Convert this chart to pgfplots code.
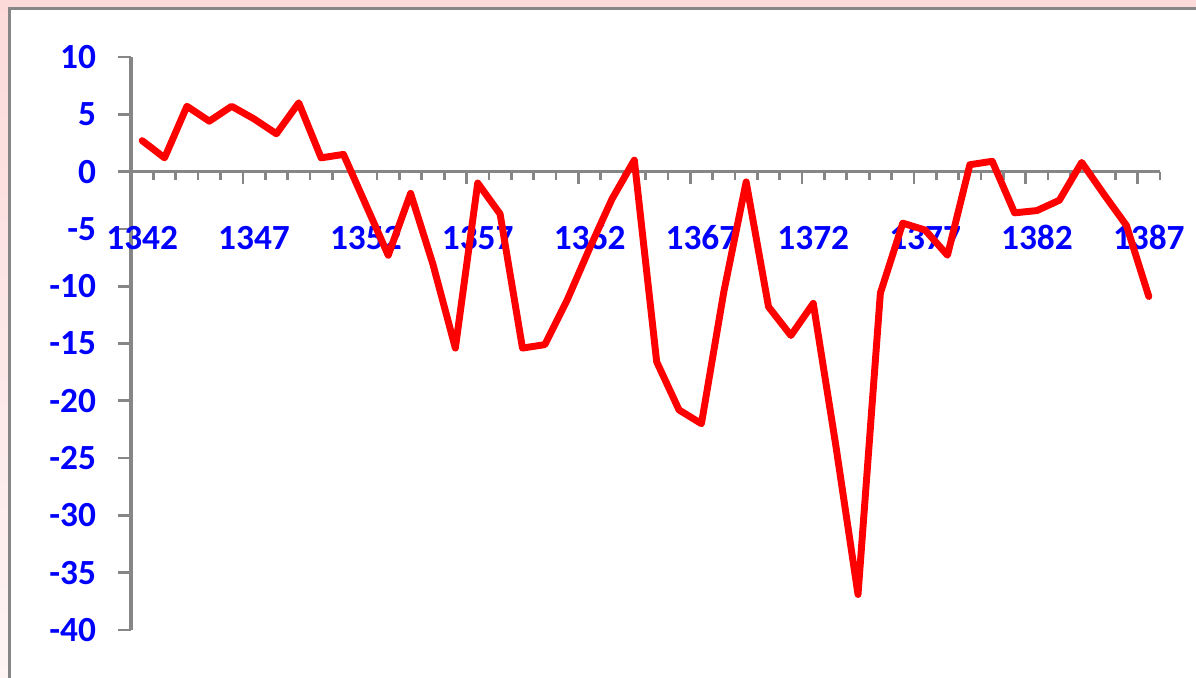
\documentclass[border=0pt]{standalone}
\usepackage{fontspec}
\setmainfont{Carlito}
\usepackage{pgfplots}
\pgfplotsset{compat=1.18}
\definecolor{pinkbg}{RGB}{252,218,218}
\definecolor{pinklow}{RGB}{254,244,244}
\definecolor{framegrey}{RGB}{134,134,134}
\definecolor{axgrey}{RGB}{134,134,134}
\definecolor{lblue}{RGB}{0,0,255}
\definecolor{lred}{RGB}{255,0,0}

\pgfplotstableread{
x y
0 2.7
1 1.2
2 5.7
3 4.4
4 5.7
5 4.6
6 3.3
7 6.0
8 1.2
9 1.5
10 -2.9
11 -7.3
12 -1.9
13 -8.1
14 -15.4
15 -1.0
16 -3.7
17 -15.4
18 -15.1
19 -11.2
20 -6.7
21 -2.4
22 1.0
23 -16.6
24 -20.8
25 -22.0
26 -10.5
27 -0.9
28 -11.8
29 -14.3
30 -11.5
31 -23.8
32 -36.9
33 -10.6
34 -4.5
35 -5.1
36 -7.3
37 0.6
38 0.9
39 -3.6
40 -3.4
41 -2.5
42 0.8
43 -2.0
44 -4.7
45 -10.9
}\datatable

\begin{document}
\begin{tikzpicture}
\begin{scope}
\clip (0,0) rectangle (897pt,508.5pt);
\shade[top color=pinkbg, bottom color=pinklow] (0,0) rectangle (897pt,508.5pt);
\filldraw[fill=white, draw=framegrey, line width=2.25pt] (6.75pt,-20pt) rectangle (920pt,501.75pt);
\end{scope}
\useasboundingbox (0,0) rectangle (897pt,508.5pt);
\begin{axis}[
  at={(98.25pt,36pt)}, anchor=south west,
  scale only axis, width=771.75pt, height=429.75pt,
  xmin=-0.5, xmax=45.5, ymin=-40, ymax=10,
  axis x line=middle, axis y line=left,
  axis line style={-, draw=axgrey, line width=2.8pt},
  tick align=outside,
  major tick length=9.5pt, minor tick length=6.5pt,
  every tick/.style={draw=axgrey, line width=2pt},
  ytick={-40,-35,...,10},
  yticklabels={-40,-35,-30,-25,-20,-15,-10,-5,0,5,10},
  xtick={-0.5,4.5,...,44.6},
  xticklabels={},
  minor xtick={-0.5,0.5,...,45.6},
  extra x ticks={0,5,...,45},
  extra x tick labels={1342,1347,1352,1357,1362,1367,1372,1377,1382,1387},
  extra x tick style={major tick length=0pt, xticklabel style={anchor=center, yshift=-49.5pt}},
  ticklabel style={font=\fontsize{26.5}{31}\selectfont\bfseries, text=lblue, inner sep=0pt},
  yticklabel style={anchor=east, xshift=-16.5pt},
  clip=false,
]
\addplot[lred, line width=5.2pt, line join=round, line cap=round] table[x=x,y=y] {\datatable};
\end{axis}
\end{tikzpicture}
\end{document}
